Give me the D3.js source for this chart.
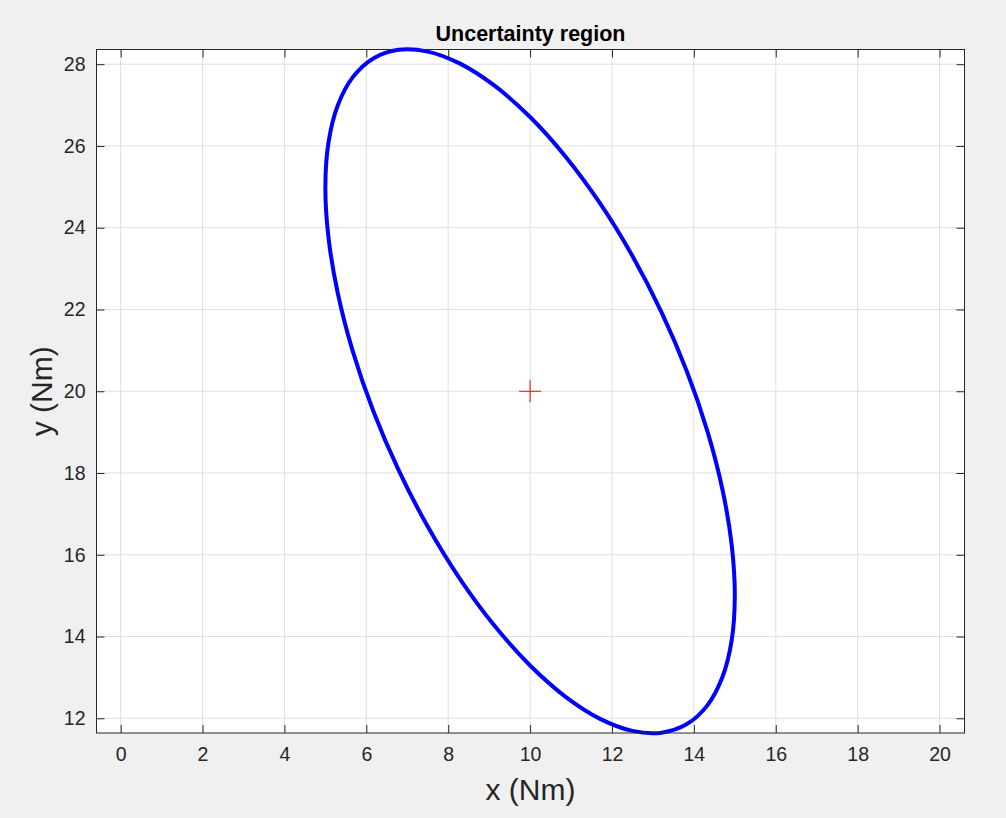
<!DOCTYPE html>
<html>
<head>
<meta charset="utf-8">
<script src="https://cdn.jsdelivr.net/npm/d3@7"></script>
<style>
  body { margin: 0; background: #f0f0f0; }
  svg text { font-family: "Liberation Sans", Arial, Helvetica, sans-serif; }
</style>
</head>
<body>
<script>
'use strict';

// ellipse boundary points (Nm)
const ellipseX = [15, 14.924, 14.698, 14.330, 13.830, 13.214, 12.5, 11.710, 10.868, 10,
  9.132, 8.290, 7.5, 6.786, 6.170, 5.670, 5.302, 5.076, 5, 5.076, 5.302, 5.670, 6.170,
  6.786, 7.5, 8.290, 9.132, 10, 10.868, 11.710, 12.5, 13.214, 13.830, 14.330, 14.698, 14.924];
const ellipseY = [15, 16.241, 17.596, 19.024, 20.482, 21.924, 23.309, 24.594, 25.738, 26.708,
  27.474, 28.014, 28.309, 28.352, 28.142, 27.684, 26.992, 26.089, 25, 23.759, 22.404, 20.976,
  19.518, 18.076, 16.691, 15.406, 14.262, 13.292, 12.526, 11.986, 11.691, 11.648, 11.858,
  12.316, 13.008, 13.911];

// centre estimate
const centerX = [10];
const centerY = [20];

const xTicks = [0, 2, 4, 6, 8, 10, 12, 14, 16, 18, 20];
const yTicks = [12, 14, 16, 18, 20, 22, 24, 26, 28];
const xDomain = [-0.59, 20.61];
const yDomain = [11.64, 28.36];

const width = 1006, height = 818;
const plot = { left: 96.5, top: 49.5, right: 964.5, bottom: 733 };

const svg = d3.select('body').append('svg')
  .attr('width', width)
  .attr('height', height);

svg.append('rect')
  .attr('width', width)
  .attr('height', height)
  .attr('fill', '#f0f0f0');

let xScale = d3.scaleLinear().domain(xDomain).range([plot.left, plot.right]);
let yScale = d3.scaleLinear().domain(yDomain).range([plot.bottom, plot.top]);

// white axes background
svg.append('rect')
  .attr('x', plot.left)
  .attr('y', plot.top)
  .attr('width', plot.right - plot.left)
  .attr('height', plot.bottom - plot.top)
  .attr('fill', '#ffffff');

// grid
let grid = svg.append('g').attr('stroke', '#dfdfdf').attr('stroke-width', 1);
grid.selectAll('.gx').data(xTicks).enter().append('line')
  .attr('x1', d => xScale(d)).attr('x2', d => xScale(d))
  .attr('y1', plot.top).attr('y2', plot.bottom);
grid.selectAll('.gy').data(yTicks).enter().append('line')
  .attr('x1', plot.left).attr('x2', plot.right)
  .attr('y1', d => yScale(d)).attr('y2', d => yScale(d));

// ellipse
let pts = ellipseX.map((x, i) => [x, ellipseY[i]]);
let line = d3.line()
  .x(d => xScale(d[0]))
  .y(d => yScale(d[1]))
  .curve(d3.curveCatmullRomClosed);

svg.append('path')
  .datum(pts)
  .attr('d', line)
  .attr('fill', 'none')
  .attr('stroke', '#0000ff')
  .attr('stroke-width', 4);

// centre marker
centerX.forEach((cx, i) => {
  let g = svg.append('g')
    .attr('stroke', '#ff0000')
    .attr('stroke-width', 1);
  g.append('line')
    .attr('x1', xScale(cx) - 11).attr('x2', xScale(cx) + 11)
    .attr('y1', yScale(centerY[i])).attr('y2', yScale(centerY[i]));
  g.append('line')
    .attr('x1', xScale(cx)).attr('x2', xScale(cx))
    .attr('y1', yScale(centerY[i]) - 11).attr('y2', yScale(centerY[i]) + 11);
});

// axes with inward ticks on all four sides
const axisColor = '#262626';
function styleAxis(g) {
  g.select('.domain').remove();
  g.selectAll('.tick line').attr('stroke', axisColor);
  g.selectAll('.tick text')
    .attr('fill', axisColor)
    .style('font-size', '19.5px');
}

svg.append('g')
  .attr('transform', `translate(0, ${plot.bottom})`)
  .call(d3.axisBottom(xScale).tickValues(xTicks).tickSizeInner(-8).tickPadding(14))
  .call(styleAxis);
svg.append('g')
  .attr('transform', `translate(0, ${plot.top})`)
  .call(d3.axisTop(xScale).tickValues(xTicks).tickSizeInner(-8).tickFormat(''))
  .call(styleAxis);
svg.append('g')
  .attr('transform', `translate(${plot.left}, 0)`)
  .call(d3.axisLeft(yScale).tickValues(yTicks).tickSizeInner(-8).tickPadding(11))
  .call(styleAxis);
svg.append('g')
  .attr('transform', `translate(${plot.right}, 0)`)
  .call(d3.axisRight(yScale).tickValues(yTicks).tickSizeInner(-8).tickFormat(''))
  .call(styleAxis);

// box
svg.append('rect')
  .attr('x', plot.left)
  .attr('y', plot.top)
  .attr('width', plot.right - plot.left)
  .attr('height', plot.bottom - plot.top)
  .attr('fill', 'none')
  .attr('stroke', axisColor)
  .attr('stroke-width', 1);

// title and labels
svg.append('text')
  .attr('x', (plot.left + plot.right) / 2)
  .attr('y', 41)
  .attr('text-anchor', 'middle')
  .style('font-size', '21.5px')
  .style('font-weight', 'bold')
  .attr('fill', '#000000')
  .text('Uncertainty region');

svg.append('text')
  .attr('x', (plot.left + plot.right) / 2)
  .attr('y', 800)
  .attr('text-anchor', 'middle')
  .style('font-size', '30px')
  .attr('fill', axisColor)
  .text('x (Nm)');

svg.append('text')
  .attr('transform', `translate(52, ${(plot.top + plot.bottom) / 2}) rotate(-90)`)
  .attr('text-anchor', 'middle')
  .style('font-size', '30px')
  .attr('fill', axisColor)
  .text('y (Nm)');
</script>
</body>
</html>
